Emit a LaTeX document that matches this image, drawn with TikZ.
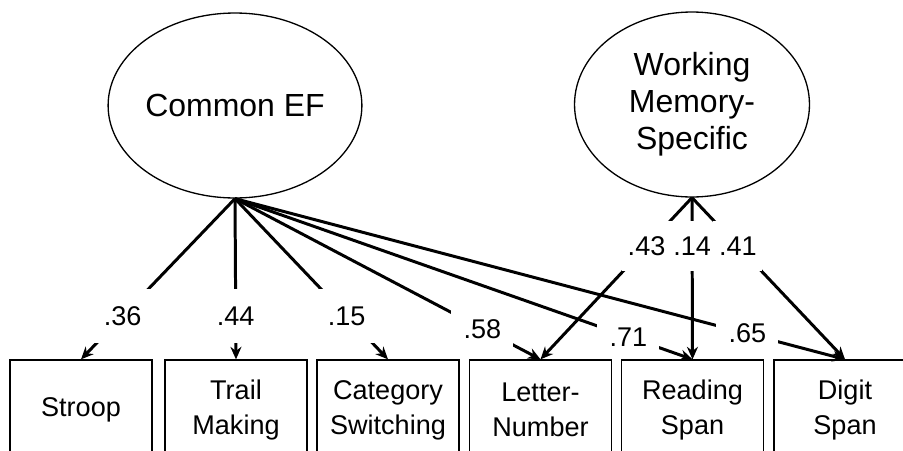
\documentclass[tikz,border=0pt]{standalone}
\usepackage{fontspec}
\setmainfont{Liberation Sans}
\usetikzlibrary{arrows.meta,shapes.geometric,backgrounds}

\begin{document}
\begin{tikzpicture}[
    x=0.02cm, y=-0.02cm,
    latent/.style={draw, ellipse, line width=0.75pt, minimum width=4.7cm, minimum height=3.7cm, inner sep=0pt, align=center, font=\fontsize{18.2pt}{21pt}\selectfont},
    measure/.style={draw, line width=0.75pt, minimum width=2.84cm, minimum height=2cm, inner sep=0pt, align=center, font=\fontsize{15.4pt}{19.9pt}\selectfont},
    load/.style={fill=white, minimum width=1.24cm, minimum height=1.08cm, inner sep=0pt, font=\fontsize{15.4pt}{18pt}\selectfont},
    wmload/.style={load, minimum width=0.98cm, minimum height=1cm},
    arr/.style={-{Stealth[length=0.25cm, width=0.22cm]}, line width=1.7pt}
]
\clip (0,0) rectangle (903,450);

\node[latent] (cef) at (235,105.5) {Common EF};
\node[latent] (wm) at (692,104.5) {Working\\Memory-\\Specific};

\node[measure] (stroop) at (81,410) {Stroop};
\node[measure] (trail) at (236,410) {Trail\\Making};
\node[measure] (cat) at (388,410) {Category\\Switching};
\node[measure] (letter) at (540.5,410) {Letter-\\Number};
\node[measure] (read) at (692.5,410) {Reading\\Span};
\node[measure] (digit) at (845,410) {Digit\\Span};

\begin{scope}[on background layer]
% common factor loadings
\draw[arr] (cef.south) -- (stroop.north) node[load, pos=0.73] {.36};
\draw[arr] (cef.south) -- (trail.north) node[load, pos=0.73] {.44};
\draw[arr] (cef.south) -- (cat.north) node[load, pos=0.73] {.15};
\draw[arr] (cef.south) -- (letter.north) node[load, pos=0.81] {.58};
\draw[arr] (cef.south) -- (read.north) node[load, pos=0.86] {.71};
\draw[arr] (cef.south) -- (digit.north) node[load, pos=0.84] {.65};

% specific factor loadings
\draw[arr] (wm.south) -- (letter.north) node[wmload, pos=0.3] {.43};
\draw[arr] (wm.south) -- (read.north) node[wmload, pos=0.3] {.14};
\draw[arr] (wm.south) -- (digit.north) node[wmload, pos=0.3] {.41};
\end{scope}
\end{tikzpicture}
\end{document}
